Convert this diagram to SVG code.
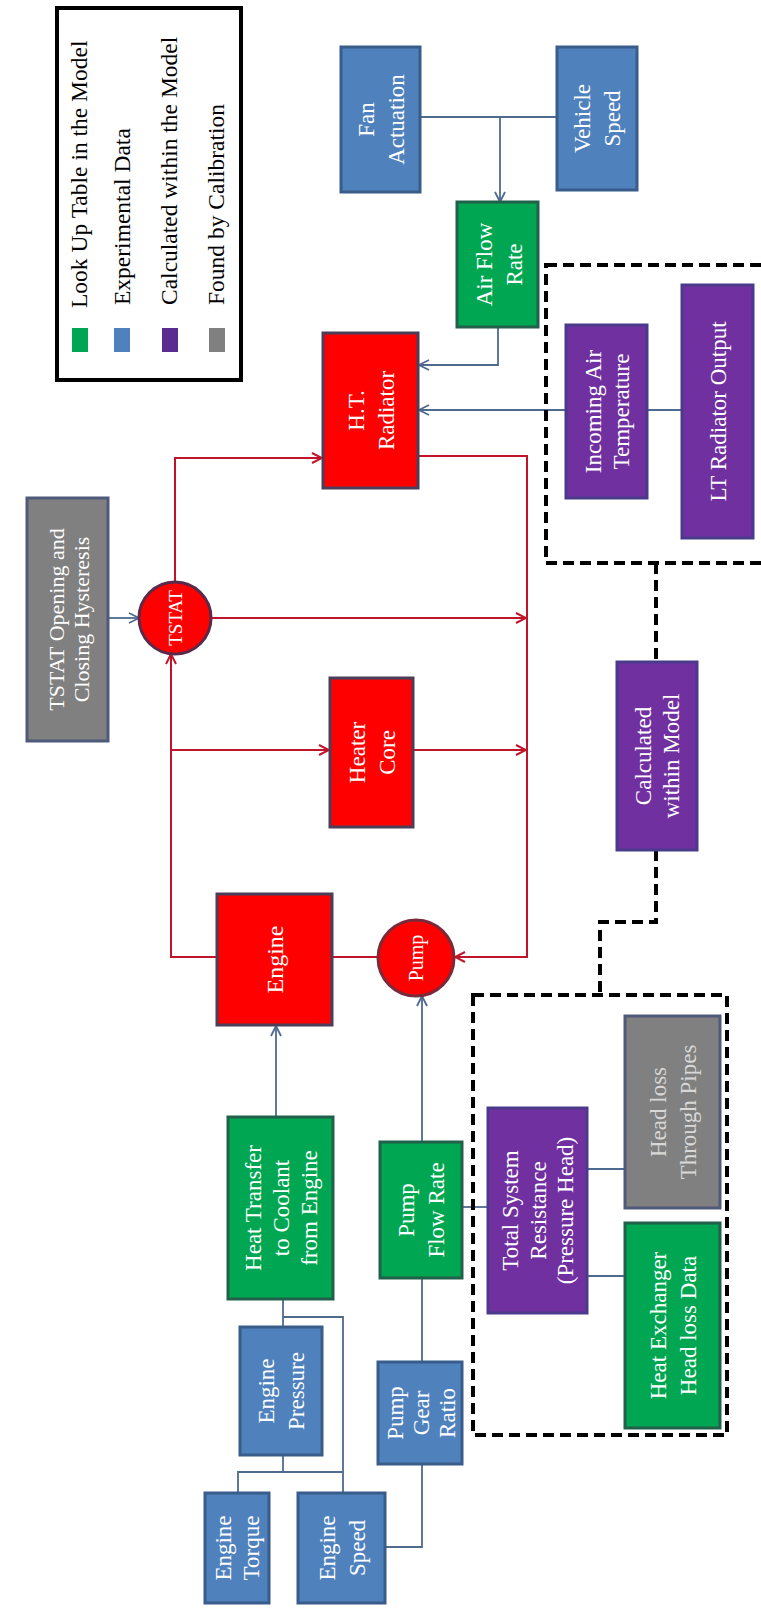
<svg xmlns="http://www.w3.org/2000/svg" width="761" height="1612" viewBox="0 0 761 1612">
<defs>
<style>
.t{font-family:"Liberation Serif","Times New Roman",serif;font-size:23px;fill:#ffffff;text-anchor:middle}
.lg{font-family:"Liberation Serif","Times New Roman",serif;font-size:23.5px;fill:#000000}
.blue{fill:#4F81BD;stroke:#385D8A;stroke-width:3}
.green{fill:#00A651;stroke:#21604A;stroke-width:3}
.red{fill:#FF0000;stroke:#4A3E58;stroke-width:3}
.purple{fill:#7030A0;stroke:#4B3A8C;stroke-width:3}
.gray{fill:#808080;stroke:#4F5A7A;stroke-width:3}
.cb{fill:none;stroke:#4F6A8F;stroke-width:1.8}
.cr{fill:none;stroke:#C0142A;stroke-width:2}
.cd{fill:none;stroke:#000000;stroke-width:4;stroke-dasharray:11 6}
</style>
<marker id="ab" viewBox="0 0 12 12" refX="11" refY="6" markerWidth="12" markerHeight="12" markerUnits="userSpaceOnUse" orient="auto">
<path d="M1,1 L11,6 L1,11" fill="none" stroke="#4F6A8F" stroke-width="1.8"/>
</marker>
<marker id="ar" viewBox="0 0 12 12" refX="11" refY="6" markerWidth="12" markerHeight="12" markerUnits="userSpaceOnUse" orient="auto">
<path d="M1,1 L11,6 L1,11" fill="none" stroke="#C0142A" stroke-width="2"/>
</marker>
</defs>
<rect width="761" height="1612" fill="#ffffff"/>

<g id="legend">
<rect x="57" y="8" width="184" height="372" fill="#ffffff" stroke="#000000" stroke-width="4"/>
<rect x="72" y="328" width="16" height="24" fill="#00A651"/>
<rect x="114" y="328" width="16" height="24" fill="#4F81BD"/>
<rect x="162" y="328" width="16" height="24" fill="#5B2C8F"/>
<rect x="209" y="328" width="16" height="24" fill="#808080"/>
<text class="lg" transform="translate(87,308) rotate(-90)">Look Up Table in the Model</text>
<text class="lg" transform="translate(130,305) rotate(-90)">Experimental Data</text>
<text class="lg" transform="translate(177,305) rotate(-90)">Calculated within the Model</text>
<text class="lg" transform="translate(224,305) rotate(-90)">Found by Calibration</text>
</g>

<g id="connectors">
<path class="cb" d="M420,117 L557,117"/>
<path class="cb" d="M500,117 L500,202" marker-end="url(#ab)"/>
<path class="cb" d="M498,327 L498,365 L419,365" marker-end="url(#ab)"/>
<path class="cb" d="M682,410 L419,410" marker-end="url(#ab)"/>
<path class="cb" d="M108,618 L139,618" marker-end="url(#ab)"/>
<path class="cb" d="M276,1117 L276,1026" marker-end="url(#ab)"/>
<path class="cb" d="M422,1142 L422,996" marker-end="url(#ab)"/>
<path class="cb" d="M462,1207 L488,1207"/>
<path class="cb" d="M587,1169 L625,1169"/>
<path class="cb" d="M587,1276 L625,1276"/>
<path class="cb" d="M283,1299 L283,1328"/>
<path class="cb" d="M283,1317 L343,1317 L343,1493"/>
<path class="cb" d="M283,1455 L283,1472"/>
<path class="cb" d="M238,1493 L238,1472 L343,1472"/>
<path class="cb" d="M422,1362 L422,1278"/>
<path class="cb" d="M422,1464 L422,1547 L385,1547"/>
<path class="cr" d="M175,583 L175,458 L322,458" marker-end="url(#ar)"/>
<path class="cr" d="M418,456 L527,456 L527,957 L455,957" marker-end="url(#ar)"/>
<path class="cr" d="M211,618 L526,618" marker-end="url(#ar)"/>
<path class="cr" d="M171,750 L329,750" marker-end="url(#ar)"/>
<path class="cr" d="M413,750 L526,750" marker-end="url(#ar)"/>
<path class="cr" d="M217,957 L171,957 L171,654" marker-end="url(#ar)"/>
<path class="cr" d="M332,957 L378,957" stroke="#7A1A2A"/>
<rect class="cd" x="546" y="265" width="222" height="298"/>
<path class="cd" d="M656,563 L656,662"/>
<path class="cd" d="M656,850 L656,922 L600,922 L600,995"/>
<rect class="cd" x="473" y="995" width="254" height="440"/>
</g>

<g id="fan-actuation">
<rect class="blue" x="341" y="47" width="79" height="145"/>
<text class="t" transform="translate(380.5,119.5) rotate(-90)"><tspan x="0" y="-7">Fan</tspan><tspan x="0" y="23">Actuation</tspan></text>
</g>
<g id="vehicle-speed">
<rect class="blue" x="557" y="47" width="80" height="143"/>
<text class="t" transform="translate(597,118.5) rotate(-90)"><tspan x="0" y="-7">Vehicle</tspan><tspan x="0" y="23">Speed</tspan></text>
</g>
<g id="air-flow-rate">
<rect class="green" x="457" y="202" width="81" height="125"/>
<text class="t" transform="translate(499,264.5) rotate(-90)"><tspan x="0" y="-7">Air Flow</tspan><tspan x="0" y="23">Rate</tspan></text>
</g>
<g id="ht-radiator">
<rect class="red" x="323" y="333" width="95" height="155"/>
<text class="t" transform="translate(370.5,410.5) rotate(-90)"><tspan x="0" y="-7">H.T.</tspan><tspan x="0" y="23">Radiator</tspan></text>
</g>
<g id="incoming-air-temperature">
<rect class="purple" x="566" y="325" width="81" height="173"/>
<text class="t" transform="translate(606.5,411.5) rotate(-90)"><tspan x="0" y="-6">Incoming Air</tspan><tspan x="0" y="22">Temperature</tspan></text>
</g>
<g id="lt-radiator-output">
<rect class="purple" x="682" y="285" width="71" height="253"/>
<text class="t" transform="translate(717.5,411.5) rotate(-90)"><tspan x="0" y="8">LT Radiator Output</tspan></text>
</g>
<g id="calculated-within-model">
<rect class="purple" x="617" y="662" width="80" height="188"/>
<text class="t" transform="translate(657,756) rotate(-90)"><tspan x="0" y="-6">Calculated</tspan><tspan x="0" y="22">within Model</tspan></text>
</g>
<g id="tstat-hysteresis">
<rect class="gray" x="27" y="498" width="81" height="243"/>
<text class="t" style="font-size:22px" transform="translate(69,619.5) rotate(-90)"><tspan x="0" y="-5">TSTAT Opening and</tspan><tspan x="0" y="20">Closing Hysteresis</tspan></text>
</g>
<g id="tstat">
<circle cx="175" cy="618" r="36" fill="#FF0000" stroke="#5A2A4A" stroke-width="3"/>
<text class="t" style="font-size:19px" transform="translate(175,618) rotate(-90)"><tspan x="0" y="7">TSTAT</tspan></text>
</g>
<g id="heater-core">
<rect class="red" x="330" y="678" width="83" height="149"/>
<text class="t" transform="translate(371.5,752.5) rotate(-90)"><tspan x="0" y="-7">Heater</tspan><tspan x="0" y="23">Core</tspan></text>
</g>
<g id="engine">
<rect class="red" x="217" y="894" width="115" height="131"/>
<text class="t" style="font-size:24px" transform="translate(274.5,959.5) rotate(-90)"><tspan x="0" y="8">Engine</tspan></text>
</g>
<g id="pump">
<circle cx="416" cy="958" r="38" fill="#FF0000" stroke="#7A2A3A" stroke-width="3"/>
<text class="t" style="font-size:20px" transform="translate(416,958) rotate(-90)"><tspan x="0" y="7">Pump</tspan></text>
</g>
<g id="heat-transfer">
<rect class="green" x="228" y="1117" width="105" height="182"/>
<text class="t" transform="translate(280.5,1208) rotate(-90)"><tspan x="0" y="-20">Heat Transfer</tspan><tspan x="0" y="8">to Coolant</tspan><tspan x="0" y="36">from Engine</tspan></text>
</g>
<g id="engine-pressure">
<rect class="blue" x="240" y="1327" width="82" height="128"/>
<text class="t" transform="translate(281,1391) rotate(-90)"><tspan x="0" y="-7">Engine</tspan><tspan x="0" y="23">Pressure</tspan></text>
</g>
<g id="engine-torque">
<rect class="blue" x="205" y="1493" width="64" height="110"/>
<text class="t" transform="translate(237,1548) rotate(-90)"><tspan x="0" y="-6">Engine</tspan><tspan x="0" y="22">Torque</tspan></text>
</g>
<g id="engine-speed">
<rect class="blue" x="298" y="1493" width="87" height="110"/>
<text class="t" transform="translate(341.5,1548) rotate(-90)"><tspan x="0" y="-7">Engine</tspan><tspan x="0" y="23">Speed</tspan></text>
</g>
<g id="pump-gear-ratio">
<rect class="blue" x="378" y="1362" width="84" height="102"/>
<text class="t" transform="translate(421,1413) rotate(-90)"><tspan x="0" y="-18">Pump</tspan><tspan x="0" y="8">Gear</tspan><tspan x="0" y="34">Ratio</tspan></text>
</g>
<g id="pump-flow-rate">
<rect class="green" x="380" y="1142" width="82" height="136"/>
<text class="t" transform="translate(421,1210) rotate(-90)"><tspan x="0" y="-7">Pump</tspan><tspan x="0" y="23">Flow Rate</tspan></text>
</g>
<g id="total-system-resistance">
<rect class="purple" x="488" y="1108" width="99" height="205"/>
<text class="t" transform="translate(537.5,1210.5) rotate(-90)"><tspan x="0" y="-19.5">Total System</tspan><tspan x="0" y="8">Resistance</tspan><tspan x="0" y="35.5">(Pressure Head)</tspan></text>
</g>
<g id="head-loss-pipes">
<rect class="gray" x="625" y="1016" width="95" height="192"/>
<text class="t" style="fill:#D8D8D8" transform="translate(672.5,1112) rotate(-90)"><tspan x="0" y="-7">Head loss</tspan><tspan x="0" y="23">Through Pipes</tspan></text>
</g>
<g id="heat-exchanger-head-loss">
<rect class="green" x="625" y="1223" width="95" height="205"/>
<text class="t" transform="translate(672.5,1325.5) rotate(-90)"><tspan x="0" y="-7">Heat Exchanger</tspan><tspan x="0" y="23">Head loss Data</tspan></text>
</g>
</svg>
